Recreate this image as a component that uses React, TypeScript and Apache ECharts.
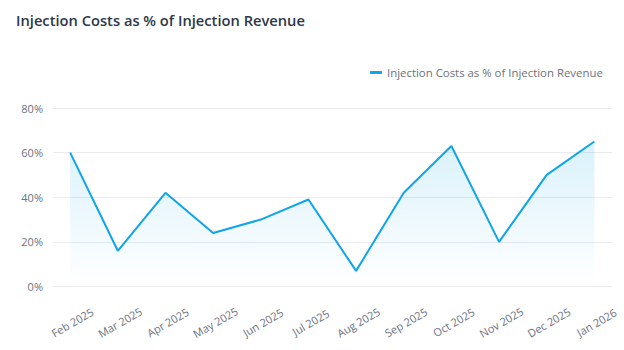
import React, { useEffect, useRef } from "react";
import * as echarts from "echarts";

const months = [
  "Feb 2025", "Mar 2025", "Apr 2025", "May 2025", "Jun 2025", "Jul 2025",
  "Aug 2025", "Sep 2025", "Oct 2025", "Nov 2025", "Dec 2025", "Jan 2026",
];
const costPct = [60, 16, 42, 24, 30, 39, 7, 42, 63, 20, 50, 65];
const yTicks = [0, 20, 40, 60, 80];
const seriesName = "Injection Costs as % of Injection Revenue";
const titleText = "Injection Costs as % of Injection Revenue";

const FONT = "'Open Sans', 'Noto Sans', sans-serif";

export default function App() {
  const ref = useRef<HTMLDivElement>(null);
  useEffect(() => {
    document.body.style.margin = "0";
    const chart = echarts.init(ref.current!, null, { renderer: "svg" });
    const data = costPct.map((v, i) => [i, v]);
    chart.setOption({
      animation: false,
      backgroundColor: "#ffffff",
      textStyle: { fontFamily: FONT },
      title: {
        text: titleText,
        left: 11,
        top: 7,
        textStyle: { fontSize: 14.7, fontWeight: 600, color: "#2d3748", fontFamily: FONT },
      },
      legend: {
        left: 365,
        top: 62,
        icon: "roundRect",
        itemWidth: 12,
        itemHeight: 3,
        itemGap: 10,
        textStyle: { fontSize: 11.4, color: "#6b7280", fontFamily: FONT },
        data: [{ name: seriesName, itemStyle: { color: "#0ea5e9" } }],
      },
      grid: { left: 53, right: 12, top: 108, bottom: 63.5, containLabel: false, outerBoundsMode: "none" },
      xAxis: {
        type: "value",
        min: -0.36,
        max: 11.37,
        axisLine: { show: false },
        axisTick: { show: false },
        splitLine: { show: false },
        axisLabel: {
          customValues: months.map((_, i) => i),
          formatter: (v: number) => months[Math.round(v)] ?? "",
          rotate: 30,
          align: "center",
          verticalAlign: "middle",
          margin: 37,
          padding: [0, 0, 0, 5],
          fontSize: 11,
          color: "#6b7280",
          fontFamily: FONT,
        },
      },
      yAxis: {
        type: "value",
        min: yTicks[0],
        max: yTicks[yTicks.length - 1],
        interval: 20,
        axisLine: { show: false },
        axisTick: { show: false },
        splitLine: { lineStyle: { color: "#ebebef", width: 1 } },
        axisLabel: {
          formatter: (v: number) => `${v}%`,
          margin: 10,
          fontSize: 11,
          color: "#6b7280",
          fontFamily: FONT,
        },
      },
      series: [
        {
          name: seriesName,
          type: "line",
          data,
          showSymbol: false,
          symbol: "none",
          lineStyle: { color: "#0ea5e9", width: 2 },
          itemStyle: { color: "#0ea5e9" },
          areaStyle: {
            color: new echarts.graphic.LinearGradient(0, 0, 0, 1, [
              { offset: 0, color: "rgba(14,165,233,0.22)" },
              { offset: 0.9, color: "rgba(14,165,233,0.02)" },
              { offset: 1, color: "rgba(14,165,233,0)" },
            ]),
          },
        },
      ],
    });
    return () => chart.dispose();
  }, []);
  return <div ref={ref} style={{ width: 624, height: 350 }} />;
}
